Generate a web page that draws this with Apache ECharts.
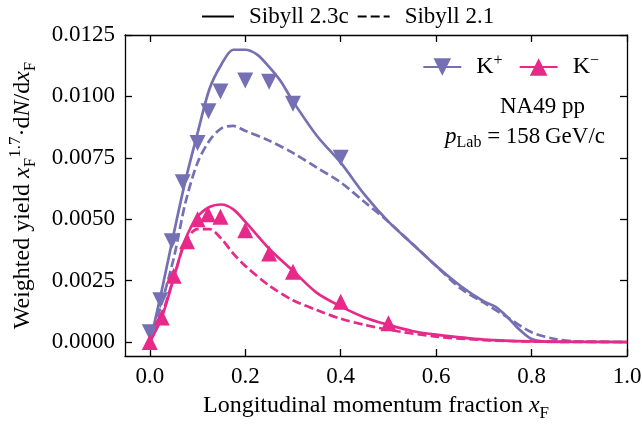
<!DOCTYPE html>
<html>
<head>
<meta charset="utf-8">
<script src="https://cdn.jsdelivr.net/npm/echarts@6/dist/echarts.min.js"></script>
<style>
html,body{margin:0;padding:0;background:#fff;}
#chart{width:642px;height:424px;}
</style>
</head>
<body>
<div id="chart"></div>
<script>
// tick positions
var xTicks = [0, 0.2, 0.4, 0.6, 0.8, 1.0];
var yTicks = [0, 0.0025, 0.005, 0.0075, 0.01, 0.0125];

// NA49 data points
var kpX = [0, 0.022, 0.046, 0.069, 0.1, 0.123, 0.148, 0.2, 0.25, 0.3, 0.4];
var kpY = [0.0004, 0.0017, 0.0041, 0.0065, 0.0081, 0.0094, 0.0102, 0.01065, 0.0106, 0.0097, 0.0075];
var kmX = [0, 0.025, 0.05, 0.078, 0.1, 0.122, 0.148, 0.2, 0.25, 0.3, 0.4, 0.5];
var kmY = [0.0000, 0.0010, 0.0027, 0.0041, 0.0050, 0.0052, 0.0051, 0.00455, 0.0036, 0.00286, 0.00164, 0.00076];

// Sibyll 2.3c (solid)
var kpNewX = [0, 0.01, 0.025, 0.05, 0.075, 0.1, 0.125, 0.15, 0.175, 0.2, 0.225, 0.25, 0.275, 0.3, 0.35, 0.4, 0.45, 0.5, 0.55, 0.6, 0.65, 0.7, 0.725, 0.75, 0.775, 0.8, 0.825, 0.85, 0.9, 1.0];
var kpNewY = [0, 0.0008, 0.0021, 0.0044, 0.0066, 0.0085, 0.0103, 0.0113, 0.0119, 0.0119, 0.0117, 0.0112, 0.0106, 0.0098, 0.0084, 0.0073, 0.0060, 0.0049, 0.0040, 0.0031, 0.0023, 0.00165, 0.00143, 0.0010, 0.0005, 0.00012, 0.00002, 0, 0, 0];
var kmNewX = [0, 0.025, 0.05, 0.075, 0.1, 0.125, 0.15, 0.175, 0.2, 0.25, 0.3, 0.35, 0.4, 0.45, 0.5, 0.55, 0.6, 0.7, 0.8, 1.0];
var kmNewY = [0, 0.0010, 0.0026, 0.0042, 0.0051, 0.0055, 0.0056, 0.0054, 0.0049, 0.0038, 0.0029, 0.0020, 0.00145, 0.0010, 0.0007, 0.00045, 0.0003, 0.0001, 0.00003, 0];

// Sibyll 2.1 (dashed)
var kpOldX = [0, 0.025, 0.05, 0.075, 0.1, 0.125, 0.15, 0.175, 0.2, 0.25, 0.3, 0.35, 0.4, 0.45, 0.5, 0.55, 0.6, 0.65, 0.7, 0.75, 0.8, 0.85, 0.9, 1.0];
var kpOldY = [0, 0.0016, 0.0034, 0.0057, 0.0073, 0.0082, 0.0087, 0.0088, 0.0086, 0.0082, 0.0077, 0.0071, 0.0065, 0.0057, 0.0049, 0.0040, 0.0031, 0.0022, 0.0016, 0.0010, 0.0004, 0.00012, 0.00002, 0];
var kmOldX = [0, 0.025, 0.05, 0.075, 0.1, 0.125, 0.15, 0.175, 0.2, 0.25, 0.3, 0.35, 0.4, 0.45, 0.5, 0.6, 0.7, 0.8, 1.0];
var kmOldY = [0, 0.0011, 0.0026, 0.0041, 0.0046, 0.0046, 0.0042, 0.0036, 0.0031, 0.0023, 0.0017, 0.0013, 0.00095, 0.0007, 0.0005, 0.00022, 0.00008, 0.00002, 0];

var PURPLE = '#7570b3';
var PINK = '#e7298a';
var FONT = 'Liberation Serif';
var DOWN = 'path://M0,0L2,0L1,2Z';
var LW = 2.7;
var DASH = [9, 4];

function pairs(xs, ys) {
    return xs.map(function (x, i) { return [x, ys[i]]; });
}

var richBase = {
    r: {fontFamily: FONT, fontSize: 24, lineHeight: 32, color: '#000'},
    i: {fontFamily: FONT, fontSize: 24, lineHeight: 32, fontStyle: 'italic', color: '#000'},
    sub: {fontFamily: FONT, fontSize: 17, lineHeight: 15, verticalAlign: 'bottom', color: '#000'},
    sup: {fontFamily: FONT, fontSize: 17, lineHeight: 15, verticalAlign: 'top', color: '#000'}
};

var axisCommon = {
    type: 'value',
    axisLine: {show: true, onZero: false, lineStyle: {color: '#000', width: 1.3}},
    splitLine: {show: false}
};

function curve(name, xs, ys, color, dashed) {
    return {
        type: 'line', name: name, data: pairs(xs, ys),
        showSymbol: false, smooth: 0.3, silent: true,
        lineStyle: {color: color, width: LW, type: dashed ? DASH : 'solid'},
        z: 2
    };
}

var chart = echarts.init(document.getElementById('chart'));
chart.setOption({
    animation: false,
    textStyle: {fontFamily: FONT},
    grid: {left: 125, right: 15, top: 35, bottom: 68, outerBoundsMode: 'none', containLabel: false},
    legend: [{
        data: ['Sibyll 2.3c', 'Sibyll 2.1'],
        left: 196, top: 0,
        itemWidth: 32, itemHeight: 24, itemGap: 8,
        textStyle: {fontFamily: FONT, fontSize: 23, color: '#000', padding: [0, 0, 0, 10]}
    }, {
        data: ['K+', 'K-'],
        right: 38, top: 48,
        itemWidth: 38, itemHeight: 22, itemGap: 16,
        formatter: function (n) { return n === 'K+' ? '{b|K}{p|+}' : '{b|K}{p|−}'; },
        textStyle: {
            padding: [0, 0, 0, 10],
            rich: {
                b: {fontFamily: FONT, fontSize: 24, lineHeight: 28, color: '#000'},
                p: {fontFamily: FONT, fontSize: 16, lineHeight: 14, verticalAlign: 'top', color: '#000'}
            }
        }
    }],
    xAxis: [Object.assign({}, axisCommon, {
        min: -0.052, max: 1.0, position: 'bottom',
        axisTick: {inside: true, length: 7, customValues: xTicks, lineStyle: {color: '#000', width: 1.3}},
        axisLabel: {customValues: xTicks, margin: 9, fontFamily: FONT, fontSize: 23, color: '#000',
            formatter: function (v) { return v.toFixed(1); }},
        name: '{r|Longitudinal momentum fraction }{i|x}{sub|F}',
        nameLocation: 'middle', nameGap: 34,
        nameTextStyle: {rich: richBase}
    }), Object.assign({}, axisCommon, {
        min: -0.052, max: 1.0, position: 'top',
        axisTick: {inside: true, length: 7, customValues: xTicks, lineStyle: {color: '#000', width: 1.3}},
        axisLabel: {show: false}
    })],
    yAxis: [Object.assign({}, axisCommon, {
        min: -0.000569, max: 0.0125, position: 'left',
        axisTick: {inside: true, length: 7, customValues: yTicks, lineStyle: {color: '#000', width: 1.3}},
        axisLabel: {customValues: yTicks, margin: 10, fontFamily: FONT, fontSize: 23, color: '#000',
            formatter: function (v) { return v.toFixed(4); }},
        name: '{r|Weighted yield }{i|x}{sub|F}{sup|1.7}{r|·d}{i|N}{r|/d}{i|x}{sub|F}',
        nameLocation: 'middle', nameGap: 86, nameRotate: 90,
        nameTextStyle: {rich: richBase}
    }), Object.assign({}, axisCommon, {
        min: -0.000569, max: 0.0125, position: 'right',
        axisTick: {inside: true, length: 7, customValues: yTicks, lineStyle: {color: '#000', width: 1.3}},
        axisLabel: {show: false}
    })],
    graphic: [{
        type: 'text', left: 500, top: 95, silent: true,
        style: {text: 'NA49 pp', font: '23px "Liberation Serif"', fill: '#000'}
    }, {
        type: 'text', left: 445, top: 125, silent: true,
        style: {
            text: '{i|p}{sub|Lab}{r| = 158\u2009GeV/c}',
            rich: {
                r: {fontFamily: FONT, fontSize: 23, lineHeight: 28, fill: '#000'},
                i: {fontFamily: FONT, fontSize: 23, lineHeight: 28, fontStyle: 'italic', fill: '#000'},
                sub: {fontFamily: FONT, fontSize: 16, lineHeight: 14, verticalAlign: 'bottom', fill: '#000'}
            }
        }
    }],
    series: [
        // legend-only entries
        {type: 'line', name: 'Sibyll 2.3c', data: [], symbol: 'circle', itemStyle: {color: '#000', opacity: 0},
            lineStyle: {color: '#000', width: LW}},
        {type: 'line', name: 'Sibyll 2.1', data: [], symbol: 'circle', itemStyle: {color: '#000', opacity: 0},
            lineStyle: {color: '#000', width: LW, type: DASH}},
        {type: 'line', name: 'K+', data: [], symbol: DOWN, itemStyle: {color: PURPLE},
            lineStyle: {color: PURPLE, width: LW}},
        {type: 'line', name: 'K-', data: [], symbol: 'triangle', itemStyle: {color: PINK},
            lineStyle: {color: PINK, width: LW}},
        curve('kp23', kpNewX, kpNewY, PURPLE, false),
        curve('kp21', kpOldX, kpOldY, PURPLE, true),
        curve('km23', kmNewX, kmNewY, PINK, false),
        curve('km21', kmOldX, kmOldY, PINK, true),
        {type: 'scatter', name: 'kpData', data: pairs(kpX, kpY), symbol: DOWN, symbolSize: 16,
            itemStyle: {color: PURPLE, opacity: 1}, z: 3, silent: true},
        {type: 'scatter', name: 'kmData', data: pairs(kmX, kmY), symbol: 'triangle', symbolSize: 16,
            itemStyle: {color: PINK, opacity: 1}, z: 4, silent: true}
    ]
});
</script>
</body>
</html>
